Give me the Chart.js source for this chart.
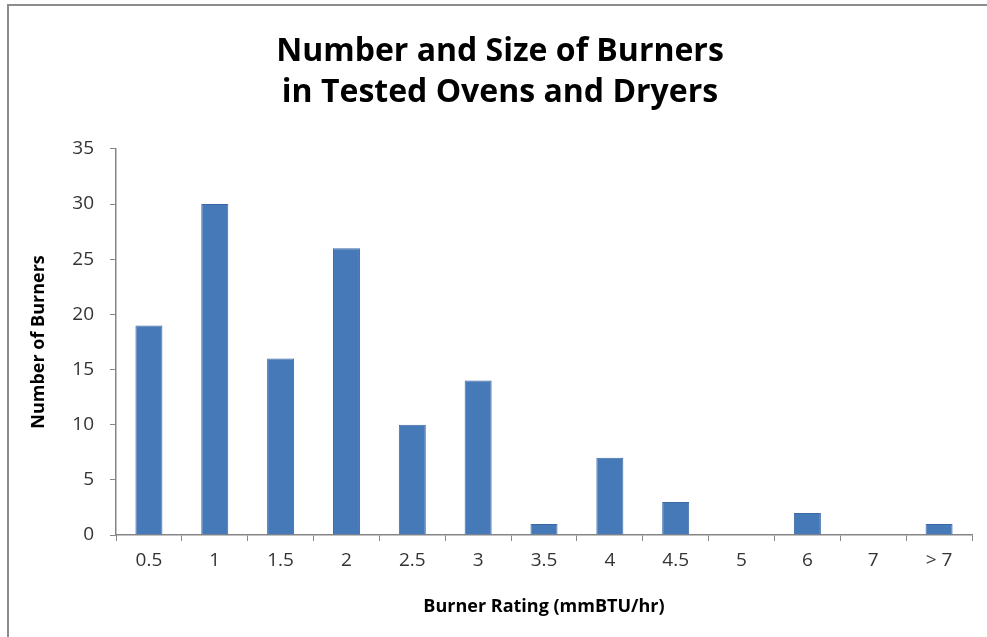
<!DOCTYPE html>
<html>
<head>
<meta charset="utf-8">
<script src="https://cdn.jsdelivr.net/npm/chart.js@4"></script>
<style>
  html, body { margin: 0; padding: 0; background: #fff; }
  #wrap { width: 987px; height: 637px; position: relative; }
</style>
</head>
<body>
<div id="wrap"><canvas id="burnerChart"></canvas></div>
<script>
// burner counts
const ratings = ['0.5', '1', '1.5', '2', '2.5', '3', '3.5', '4', '4.5', '5', '6', '7', '> 7'];
const burnerCounts = [19, 30, 16, 26, 10, 14, 1, 7, 3, 0, 2, 0, 1];
const yTicks = [0, 5, 10, 15, 20, 25, 30, 35];

const axisGray = '#868686';
const textGray = '#333333';
const fontFamily = '"Open Sans", Lato, sans-serif';

// thin frame on top and left, like the cropped excel chart
const framePlugin = {
    id: 'frame',
    beforeDraw(chart) {
        const ctx = chart.ctx;
        ctx.save();
        ctx.strokeStyle = '#8c8c8c';
        ctx.lineWidth = 2;
        ctx.beginPath();
        ctx.moveTo(8, chart.height);
        ctx.lineTo(8, 5);
        ctx.lineTo(chart.width, 5);
        ctx.stroke();
        ctx.restore();
    }
};

document.addEventListener('DOMContentLoaded', function() {
    var ctx = document.getElementById('burnerChart').getContext('2d');

    var burnerChart = new Chart(ctx, {
        type: 'bar',
        data: {
            labels: ratings,
            datasets: [{
                label: 'Number of Burners',
                data: burnerCounts,
                backgroundColor: '#4679b8',
                borderColor: '#3c69a3',
                borderWidth: 1,
                barPercentage: 0.41,
                categoryPercentage: 1
            }]
        },
        options: {
            responsive: true,
            maintainAspectRatio: false,
            animation: false,
            layout: {
                padding: { left: 28, right: 15, top: 0, bottom: 0 }
            },
            plugins: {
                legend: { display: false },
                tooltip: { enabled: false },
                title: {
                    display: true,
                    text: ['Number and Size of Burners', 'in Tested Ovens and Dryers'],
                    color: '#000',
                    font: { family: fontFamily, size: 32, weight: 'bold', lineHeight: 1.28 },
                    padding: { top: 31, bottom: 36 }
                }
            },
            scales: {
                x: {
                    grid: {
                        offset: true,
                        drawOnChartArea: false,
                        drawTicks: true,
                        tickLength: 6,
                        color: axisGray
                    },
                    border: { color: axisGray, width: 1.5 },
                    ticks: {
                        color: textGray,
                        font: { family: fontFamily, size: 19 },
                        padding: 8,
                        maxRotation: 0
                    },
                    title: {
                        display: true,
                        text: 'Burner Rating (mmBTU/hr)',
                        color: '#000',
                        font: { family: fontFamily, size: 18, weight: 'bold' },
                        padding: { top: 4, bottom: 19 }
                    },
                    afterFit: function(scale) {
                        scale.height = 102;
                    }
                },
                y: {
                    min: 0,
                    max: 35,
                    afterBuildTicks: function(scale) {
                        scale.ticks = yTicks.map(v => ({ value: v }));
                    },
                    grid: {
                        drawOnChartArea: false,
                        drawTicks: true,
                        tickLength: 6,
                        color: axisGray
                    },
                    border: { color: axisGray, width: 1.5 },
                    ticks: {
                        color: textGray,
                        font: { family: fontFamily, size: 19 },
                        padding: 16
                    },
                    title: {
                        display: true,
                        text: 'Number of Burners',
                        color: '#000',
                        font: { family: fontFamily, size: 18, weight: 'bold' },
                        padding: 0
                    },
                    afterFit: function(scale) {
                        scale.width = 88;
                    }
                }
            }
        },
        plugins: [framePlugin]
    });
});
</script>
</body>
</html>
